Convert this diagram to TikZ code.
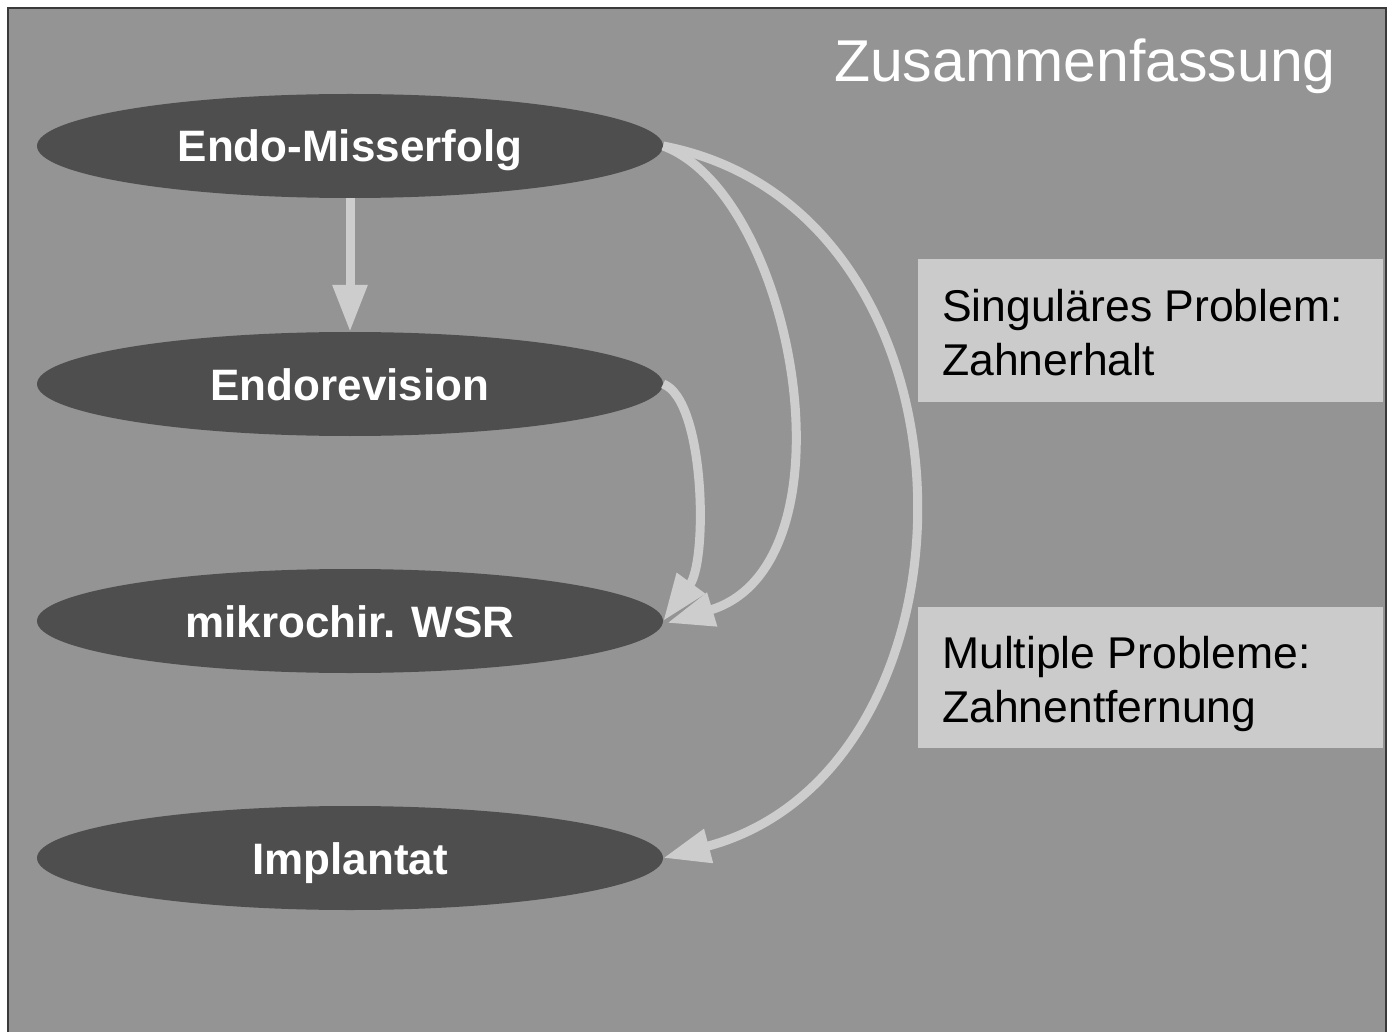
\documentclass[tikz,border=0pt]{standalone}
\usepackage{fontspec}
\setmainfont{Liberation Sans}
\usetikzlibrary{shapes.geometric,arrows.meta}
\definecolor{bggray}{HTML}{949494}
\definecolor{ellgray}{HTML}{4E4E4E}
\definecolor{arrgray}{HTML}{CDCDCD}
\definecolor{boxgray}{HTML}{CBCBCB}
\definecolor{framegray}{HTML}{3A3A3A}
\tikzset{
  stepell/.style={ellipse, fill=ellgray, draw=none, minimum width=626pt, minimum height=104pt, inner sep=0pt,
    text=white, font=\fontsize{44}{50}\selectfont\bfseries, text height=32pt, text depth=0pt},
  conn/.style={draw=arrgray, line width=9pt, -{Triangle[length=47pt,width=33pt]}},
  infobox/.style={fill=boxgray, draw=none, anchor=north west, inner sep=0pt},
  infotext/.style={anchor=base west, inner sep=0pt, text=black, font=\fontsize{44.5}{52}\selectfont},
}
\begin{document}
\begin{tikzpicture}[x=1pt,y=-1pt]
\useasboundingbox (0,0) rectangle (1390,1032);
\fill[white] (0,0) rectangle (1390,1032);
\fill[bggray] (8,8) rectangle (1386,1032);
\draw[framegray, line width=1.5pt] (8,1032) -- (8,8) -- (1386,8) -- (1386,1032);

\node[anchor=base east, inner sep=0pt, text=white, font=\fontsize{59}{65}\selectfont] (title) at (1336,82) {Zusammenfassung};

\node[stepell] (e1) at (350,146) {Endo-Misserfolg};
\node[stepell] (e2) at (350,384) {Endorevision};
\node[stepell] (e3) at (350,621) {mikrochir. WSR};
\node[stepell] (e4) at (350,858) {Implantat};

\node[infobox, minimum width=465pt, minimum height=143pt] (b1) at (918,259) {};
\node[infotext] (t1a) at (942,322) {Singuläres Problem:};
\node[infotext] (t1b) at (942,376) {Zahnerhalt};
\node[infobox, minimum width=465pt, minimum height=141pt] (b2) at (918,607) {};
\node[infotext] (t2a) at (942,668) {Multiple Probleme:};
\node[infotext] (t2b) at (942,722) {Zahnentfernung};

\draw[conn] (e1.south) -- (e2.north);
\draw[conn] (e2.east) .. controls (705,400) and (708,560) .. (e3.east);
\draw[conn] (e1.east) .. controls (795,195) and (860,565) .. ([xshift=4pt,yshift=-2pt]e3.east);
\draw[conn] (e1.east) .. controls (995,210) and (995,770) .. (e4.east);
\end{tikzpicture}
\end{document}
